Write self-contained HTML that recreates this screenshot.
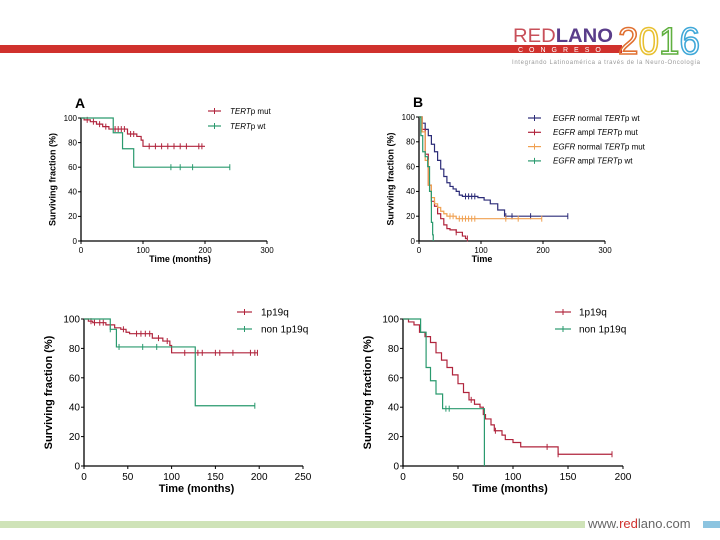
<!DOCTYPE html>
<html><head><meta charset="utf-8"><style>
body{margin:0;width:720px;height:540px;background:#fff;overflow:hidden;font-family:"Liberation Sans",Arial,sans-serif}
svg{position:absolute;left:0;top:0}
</style></head><body>
<svg width="720" height="540" xmlns="http://www.w3.org/2000/svg" font-family="Liberation Sans, Arial, sans-serif">
<g>
<rect x="0" y="45" width="622" height="8" fill="#d0312d"/>
<text x="513" y="42" font-size="19" fill="#c8505a" textLength="100" lengthAdjust="spacingAndGlyphs">RED<tspan font-weight="bold" fill="#5a3d8a">LANO</tspan></text>
<text x="518" y="52" font-size="7" fill="#fff" letter-spacing="6">CONGRESO</text>
<text x="618" y="54" font-size="38" fill="none" stroke-width="1.6" textLength="82" lengthAdjust="spacingAndGlyphs"><tspan stroke="#e07030">2</tspan><tspan stroke="#e8c030">0</tspan><tspan stroke="#60b040">1</tspan><tspan stroke="#40a8d8">6</tspan></text>
<text x="512" y="64" font-size="6" fill="#999" textLength="188">Integrando Latinoamérica a través de la Neuro-Oncología</text>
</g>
<g>
<rect x="0" y="521" width="585" height="7" fill="#cfe3b8"/>
<text x="588" y="528" font-size="13" fill="#666">www.<tspan fill="#d0312d">red</tspan>lano.com</text>
<rect x="703" y="521" width="17" height="7" fill="#8cc4e0"/>
</g>
<g id="charts"></g>
</svg>
<script>
// Chart A
const aMutT=[0,5,15,25,35,45,75,90,97,100,200];
const aMutS=[100,98.5,97,95,93,91,87,85,82,77,77];
const aMutC=[10,20,30,40,55,60,65,70,80,85,110,120,130,140,150,160,170,190,195];
const aWtT=[0,52,67,85,240];
const aWtS=[100,88,75,60,60];
const aWtC=[145,160,180,240];
// Chart B
const bBlueT=[0,5,10,15,20,25,30,35,40,45,50,55,60,65,70,95,105,115,127,138,240];
const bBlueS=[100,95,90,85,78,72,65,58,52,47,44,42,40,37,36,35,33,30,25,20,20];
const bBlueC=[75,80,85,90,140,150,180,240];
const bRedT=[0,5,10,15,20,25,30,35,40,45,50,60,70,75,78];
const bRedS=[100,90,70,45,32,28,22,18,13,10,9,7,4,2,2];
const bRedC=[60,78];
const bOrT=[0,5,10,15,20,25,30,35,40,45,60,198];
const bOrS=[100,88,65,45,35,30,27,24,22,20,18,18];
const bOrC=[50,55,65,70,75,80,85,90,140,160,198];
const bGrT=[0,3,6,10,14,17,20,22,23];
const bGrS=[100,85,72,68,60,40,15,5,0];
// Chart C
const cRedT=[0,5,10,25,35,42,48,52,78,90,98,100,198];
const cRedS=[100,98.5,97.5,96,94,93,91,90,87,85,82,77,77];
const cRedC=[8,12,18,22,45,60,65,70,75,85,95,115,130,135,150,155,170,190,195,198];
const cGrT=[0,30,37,127,195];
const cGrS=[100,93,81,41,41];
const cGrC=[30,40,67,83,195];
// Chart D
const dRedT=[0,5,10,15,20,25,30,35,40,45,50,55,60,65,70,73,75,80,83,90,93,100,107,141,190];
const dRedS=[100,98,96,91,88,84,77,72,67,62,56,50,45,42,40,35,32,28,24,21,18,16,13,8,8];
const dRedC=[62,84,131,141,190];
const dGrT=[0,16,21,25,30,36,74];
const dGrS=[100,91,67,58,49,39,0];
const dGrC=[39,42];

const NS='http://www.w3.org/2000/svg';
const root=document.getElementById('charts');
function mk(tag,attrs,parent){const e=document.createElementNS(NS,tag);for(const k in attrs)e.setAttribute(k,attrs[k]);(parent||root).appendChild(e);return e;}
function txt(x,y,s,size,attrs,parent){const e=mk('text',Object.assign({x:x,y:y,'font-size':size},attrs||{}),parent);e.textContent=s;return e;}

function chart(cfg){
  const g=mk('g',{});
  
  
  const sx=v=>cfg.x0+(v/cfg.xmax)*(cfg.x1-cfg.x0);
  const sy=v=>cfg.y0-(v/100)*(cfg.y0-cfg.y1);
  const ax=mk('path',{d:`M${cfg.x0},${cfg.y1}V${cfg.y0}H${cfg.x1}`,stroke:'#000','stroke-width':1.3,fill:'none'},g);
  
  
  [0,20,40,60,80,100].forEach(v=>{
    mk('line',{x1:cfg.x0-3,x2:cfg.x0,y1:sy(v),y2:sy(v),stroke:'#000'},g);
    const t=txt(cfg.x0-4,sy(v)+cfg.fs*0.35,String(v),cfg.fs,{'text-anchor':'end'},g);
    
    
  });
  cfg.xt.forEach(v=>{
    mk('line',{x1:sx(v),x2:sx(v),y1:cfg.y0,y2:cfg.y0+3,stroke:'#000'},g);
    const t=txt(sx(v),cfg.y0+4+cfg.fs,String(v),cfg.fs,{'text-anchor':'middle'},g);
    
    
  });
  const xl=txt((cfg.x0+cfg.x1)/2-cfg.xlo,cfg.y0+cfg.fs*2.4+2,cfg.xlabel,cfg.fs+1,{'text-anchor':'middle','font-weight':'bold'},g);
  
  
  const yx=cfg.x0-cfg.fs*3.2, ym=(cfg.y0+cfg.y1)/2;
  const yl=txt(yx,ym,'Surviving fraction (%)',cfg.fs+1,{'text-anchor':'middle','font-weight':'bold',transform:`rotate(-90 ${yx} ${ym})`},g);
  
  
  if(cfg.letter){const l=txt(cfg.x0-6,cfg.y1-10,cfg.letter,14,{'font-weight':'bold'},g);
    
    }
  cfg.series.forEach((s,i)=>{
    let d=`M${sx(s.t[0])},${sy(s.s[0])}`;
    for(let k=1;k<s.t.length;k++){d+=`H${sx(s.t[k])}V${sy(s.s[k])}`;}
    const p=mk('path',{d:d,stroke:s.c,'stroke-width':1.2,fill:'none'},g);
    
    
    (s.cz||[]).forEach(ct=>{
      let val=s.s[0];for(let k=0;k<s.t.length;k++){if(s.t[k]<=ct)val=s.s[k];}
      const m=mk('line',{x1:sx(ct),x2:sx(ct),y1:sy(val)-3,y2:sy(val)+3,stroke:s.c,'stroke-width':1},g);
      
      
    });
    const ly=cfg.leg.y+i*cfg.leg.dy;
    const lg=mk('g',{},g);
    
    
    mk('line',{x1:cfg.leg.x,x2:cfg.leg.x+cfg.leg.w,y1:ly,y2:ly,stroke:s.c,'stroke-width':1.2},lg);
    mk('line',{x1:cfg.leg.x+cfg.leg.w/2,x2:cfg.leg.x+cfg.leg.w/2,y1:ly-3,y2:ly+3,stroke:s.c},lg);
    const lt=mk('text',{x:cfg.leg.x+cfg.leg.w+cfg.leg.gap,y:ly+cfg.leg.fs*0.35,'font-size':cfg.leg.fs},lg);
    lt.innerHTML=s.label;
  });
}
const RED='#b0243c',GRN='#2a9a6e',BLU='#2c2c78',ORG='#f0a050';
chart({name:'chart-a',letter:'A',x0:81,x1:267,y0:241,y1:118,xmax:300,xt:[0,100,200,300],fs:8,xlabel:'Time (months)',xlo:-6,
  leg:{x:208,y:111,dy:15,w:13,gap:9,fs:8},
  series:[{id:'tertp-mut',c:RED,t:aMutT,s:aMutS,cz:aMutC,label:'<tspan font-style="italic">TERT</tspan>p mut'},
          {id:'tertp-wt',c:GRN,t:aWtT,s:aWtS,cz:aWtC,label:'<tspan font-style="italic">TERT</tspan>p wt'}]});
chart({name:'chart-b',letter:'B',x0:419,x1:605,y0:241,y1:117,xmax:300,xt:[0,100,200,300],fs:8,xlabel:'Time',xlo:30,
  leg:{x:528,y:118,dy:14.3,w:13,gap:12,fs:8},
  series:[{id:'egfr-normal-tertp-wt',c:BLU,t:bBlueT,s:bBlueS,cz:bBlueC,label:'<tspan font-style="italic">EGFR</tspan> normal <tspan font-style="italic">TERT</tspan>p wt'},
          {id:'egfr-ampl-tertp-mut',c:RED,t:bRedT,s:bRedS,cz:bRedC,label:'<tspan font-style="italic">EGFR</tspan> ampl <tspan font-style="italic">TERT</tspan>p mut'},
          {id:'egfr-normal-tertp-mut',c:ORG,t:bOrT,s:bOrS,cz:bOrC,label:'<tspan font-style="italic">EGFR</tspan> normal <tspan font-style="italic">TERT</tspan>p mut'},
          {id:'egfr-ampl-tertp-wt',c:GRN,t:bGrT,s:bGrS,cz:[],label:'<tspan font-style="italic">EGFR</tspan> ampl <tspan font-style="italic">TERT</tspan>p wt'}]});
chart({name:'chart-c',x0:84,x1:303,y0:466,y1:319,xmax:250,xt:[0,50,100,150,200,250],fs:10,xlabel:'Time (months)',xlo:-3,
  leg:{x:237,y:312,dy:17,w:15,gap:9,fs:10},
  series:[{id:'1p19q',c:RED,t:cRedT,s:cRedS,cz:cRedC,label:'1p19q'},
          {id:'non-1p19q',c:GRN,t:cGrT,s:cGrS,cz:cGrC,label:'non 1p19q'}]});
chart({name:'chart-d',x0:403,x1:623,y0:466,y1:319,xmax:200,xt:[0,50,100,150,200],fs:10,xlabel:'Time (months)',xlo:3,
  leg:{x:555,y:312,dy:17,w:16,gap:8,fs:10},
  series:[{id:'1p19q',c:RED,t:dRedT,s:dRedS,cz:dRedC,label:'1p19q'},
          {id:'non-1p19q',c:GRN,t:dGrT,s:dGrS,cz:dGrC,label:'non 1p19q'}]});
</script>
</body></html>
